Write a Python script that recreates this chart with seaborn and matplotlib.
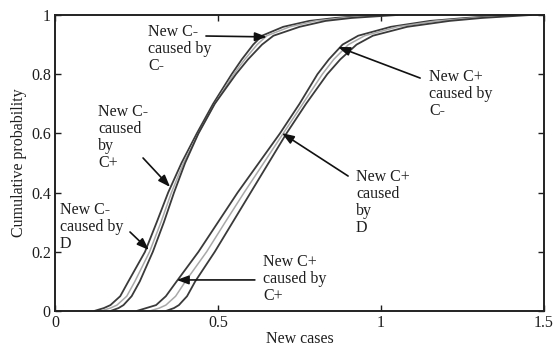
import matplotlib
matplotlib.use("Agg")
import matplotlib.pyplot as plt
import seaborn as sns

# Cumulative probability levels shared by every curve
prob = [0, 0.01, 0.02, 0.05, 0.1, 0.2, 0.3, 0.4, 0.5, 0.6, 0.7, 0.8,
        0.85, 0.9, 0.93, 0.96, 0.98, 0.99, 1.0]

# New C- cases (quantiles at each probability level)
cm_by_cp = [0.12, 0.15, 0.17, 0.20, 0.225, 0.276, 0.312, 0.347, 0.388, 0.435,
            0.485, 0.542, 0.573, 0.608, 0.635, 0.70, 0.78, 0.86, 0.98]
cm_by_cm = [0.14, 0.17, 0.19, 0.22, 0.245, 0.29, 0.325, 0.357, 0.394, 0.44,
            0.49, 0.548, 0.582, 0.62, 0.65, 0.72, 0.80, 0.88, 1.00]
cm_by_d = [0.17, 0.195, 0.21, 0.235, 0.26, 0.30, 0.334, 0.365, 0.399, 0.44,
           0.49, 0.555, 0.592, 0.635, 0.67, 0.75, 0.83, 0.91, 1.05]

# New C+ cases
cp_by_cp = [0.25, 0.28, 0.31, 0.34, 0.373, 0.44, 0.50, 0.56, 0.625, 0.69,
            0.75, 0.805, 0.84, 0.882, 0.93, 1.03, 1.15, 1.26, 1.40]
cp_by_d = [0.29, 0.32, 0.34, 0.37, 0.40, 0.465, 0.522, 0.58, 0.64, 0.70,
           0.76, 0.82, 0.855, 0.90, 0.95, 1.05, 1.17, 1.28, 1.43]
cp_by_cm = [0.34, 0.365, 0.38, 0.405, 0.43, 0.49, 0.545, 0.60, 0.655, 0.71,
            0.77, 0.835, 0.875, 0.925, 0.975, 1.08, 1.21, 1.31, 1.46]

x_ticks = [0, 0.5, 1, 1.5]
x_tick_labels = ["0", "0.5", "1", "1.5"]
y_ticks = [0, 0.2, 0.4, 0.6, 0.8, 1.0]
y_tick_labels = ["0", "0.2", "0.4", "0.6", "0.8", "1"]

sns.set_theme(style="ticks")
plt.rcParams["font.family"] = ["Liberation Serif", "DejaVu Serif"]

dark = "#3a3a3a"
light = "#a9a9a9"
txt = "#1e1e1e"
fs = 11.5

fig = plt.figure(figsize=(5.54, 3.47), dpi=100)
ax = fig.add_axes([0.0993, 0.1037, 0.8827, 0.8531])

curves = [
    (cm_by_cp, dark, 1.3),
    (cm_by_cm, light, 1.1),
    (cm_by_d, dark, 1.3),
    (cp_by_cp, dark, 1.3),
    (cp_by_d, light, 1.1),
    (cp_by_cm, dark, 1.3),
]
for xs, col, lw in curves:
    sns.lineplot(x=xs, y=prob, ax=ax, sort=False, estimator=None,
                 color=col, linewidth=lw)

ax.set_xlim(0, 1.5)
ax.set_ylim(0, 1)
ax.set_xticks(x_ticks)
ax.set_xticklabels(x_tick_labels)
ax.set_yticks(y_ticks)
ax.set_yticklabels(y_tick_labels)
ax.tick_params(direction="in", length=4, width=1, top=True, right=True,
               labelsize=fs, colors=txt, pad=3)
for s in ax.spines.values():
    s.set_visible(True)
    s.set_linewidth(1.4)
    s.set_color("#222222")

ax.set_xlabel("New cases", fontsize=fs, color=txt, labelpad=0)
ax.set_ylabel("Cumulative probability", fontsize=fs, color=txt, labelpad=3)

labels = [
    ("New C-\ncaused by\nC-", 0.285, 0.970),
    ("New C-\ncaused\nby\nC+", 0.132, 0.699),
    ("New C-\ncaused by\nD", 0.015, 0.368),
    ("New C+\ncaused by\nC+", 0.638, 0.193),
    ("New C+\ncaused\nby\nD", 0.923, 0.480),
    ("New C+\ncaused by\nC-", 1.147, 0.818),
]
for s, x, y in labels:
    ax.text(x, y, s, ha="left", va="top", fontsize=fs, color=txt,
            linespacing=1.08)

arrows = [
    ((0.463, 0.929), (0.650, 0.926)),
    ((0.270, 0.517), (0.353, 0.419)),
    ((0.230, 0.267), (0.288, 0.206)),
    ((0.613, 0.105), (0.373, 0.105)),
    ((0.899, 0.456), (0.696, 0.601)),
    ((1.120, 0.787), (0.868, 0.892)),
]
for tail, tip in arrows:
    ax.annotate("", xy=tip, xytext=tail,
                arrowprops=dict(arrowstyle="-|>,head_length=0.6,head_width=0.22",
                                color="#111111", lw=1.2, shrinkA=0, shrinkB=0))

fig.savefig("out.png", dpi=100)
